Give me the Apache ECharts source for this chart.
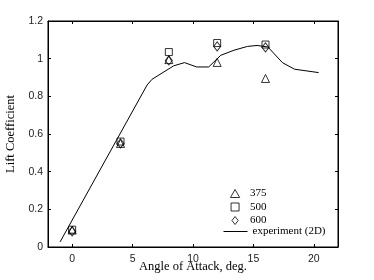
<!DOCTYPE html>
<html>
<head>
<meta charset="utf-8">
<script src="https://cdn.jsdelivr.net/npm/echarts@6/dist/echarts.min.js"></script>
<style>
html,body{margin:0;padding:0;background:#fff;}
#chart{width:374px;height:280px;}
</style>
</head>
<body>
<div id="chart"></div>
<script>
// Data
var angles = [0, 4, 8, 12, 16];
var cl375 = [0.09, 0.55, 0.995, 0.98, 0.895];
var cl500 = [0.092, 0.56, 1.035, 1.083, 1.075];
var cl600 = [0.083, 0.55, 0.99, 1.065, 1.06];
var expAngle = [-1, 6.2, 6.6, 7.1, 7.6, 8.4, 9.3, 10.3, 11.3, 12.3, 13.4, 14.5, 15.3, 16.2, 17.4, 18.4, 20.4];
var expCl = [0.027, 0.86, 0.89, 0.91, 0.93, 0.962, 0.979, 0.956, 0.956, 1.018, 1.045, 1.065, 1.07, 1.062, 0.979, 0.944, 0.926];
var xTicks = [0, 5, 10, 15, 20];
var yTicks = [0, 0.2, 0.4, 0.6, 0.8, 1, 1.2];
var seriesNames = ['375', '500', '600', 'experiment (2D)'];

function pairs(xs, ys) { return xs.map(function (x, i) { return [x, ys[i]]; }); }

var serif = 'Liberation Serif';
var sans = 'Liberation Sans';
var markerStyle = { color: 'transparent', borderColor: '#000', borderWidth: 1 };

var chart = echarts.init(document.getElementById('chart'));
var xBase = { min: -2, max: 22, type: 'value', splitLine: { show: false } };
var yBase = { min: 0, max: 1.2, interval: 0.2, type: 'value', splitLine: { show: false } };

chart.setOption({
  animation: false,
  backgroundColor: '#fff',
  grid: { left: 48, top: 21, width: 290, height: 226, containLabel: false, outerBoundsMode: 'none',
    show: true, borderColor: '#000', borderWidth: 1, backgroundColor: 'transparent' },
  xAxis: [
    Object.assign({}, xBase, {
      position: 'bottom',
      name: 'Angle of Attack, deg.', nameLocation: 'middle', nameGap: 13, nameMoveOverlap: false,
      nameTextStyle: { fontFamily: serif, fontSize: 12.5, color: '#000' },
      axisLine: { show: true, onZero: false, lineStyle: { color: '#000', width: 1 } },
      axisTick: { show: true, inside: true, length: 3, customValues: xTicks, lineStyle: { color: '#000' } },
      axisLabel: { customValues: xTicks, margin: 7, fontFamily: sans, fontSize: 10.5, color: '#222' }
    }),
    Object.assign({}, xBase, {
      position: 'top',
      axisLine: { show: true, onZero: false, lineStyle: { color: '#000', width: 1 } },
      axisTick: { show: true, inside: true, length: 3, customValues: xTicks, lineStyle: { color: '#000' } },
      axisLabel: { show: false }
    })
  ],
  yAxis: [
    Object.assign({}, yBase, {
      position: 'left',
      name: 'Lift Coefficient', nameLocation: 'middle', nameGap: 31, nameMoveOverlap: false,
      nameTextStyle: { fontFamily: serif, fontSize: 12.5, color: '#000' },
      axisLine: { show: true, onZero: false, lineStyle: { color: '#000', width: 1 } },
      axisTick: { show: true, inside: true, length: 3, lineStyle: { color: '#000' } },
      axisLabel: { margin: 5, fontFamily: sans, fontSize: 10.5, color: '#222',
        formatter: function (v) { var t = yTicks.filter(function (k) { return Math.abs(k - v) < 1e-9; }); return t.length ? String(t[0]) : ''; } }
    }),
    Object.assign({}, yBase, {
      position: 'right',
      axisLine: { show: true, onZero: false, lineStyle: { color: '#000', width: 1 } },
      axisTick: { show: true, inside: true, length: 3, lineStyle: { color: '#000' } },
      axisLabel: { show: false }
    })
  ],
  legend: [
    {
      data: [
        { name: seriesNames[0], icon: 'path://M4,0L8,7L0,7Z' },
        { name: seriesNames[1], icon: 'path://M0,0L7,0L7,7L0,7Z' },
        { name: seriesNames[2], icon: 'path://M3.5,0L7,4.5L3.5,9L0,4.5Z' }
      ],
      orient: 'vertical', left: 230, top: 188, padding: 0,
      itemWidth: 20, itemHeight: 8, itemGap: 2.5, symbolKeepAspect: true,
      itemStyle: { color: 'transparent', borderColor: '#000', borderWidth: 1 },
      textStyle: { fontFamily: serif, fontSize: 11, color: '#000' }
    },
    {
      data: [seriesNames[3]],
      orient: 'vertical', left: 223, top: 226, padding: 0,
      itemWidth: 24, itemHeight: 8,
      itemStyle: { color: 'transparent', borderWidth: 0, opacity: 0 },
      lineStyle: { color: '#000', width: 1 },
      textStyle: { fontFamily: serif, fontSize: 11, color: '#000' }
    }
  ],
  series: [
    { name: seriesNames[3], type: 'line', data: pairs(expAngle, expCl), showSymbol: false, symbol: 'none',
      lineStyle: { color: '#000', width: 1 }, itemStyle: { color: '#000' } },
    { name: seriesNames[0], type: 'scatter', data: pairs(angles, cl375), symbol: 'triangle', symbolSize: 8, itemStyle: markerStyle },
    { name: seriesNames[1], type: 'scatter', data: pairs(angles, cl500), symbol: 'rect', symbolSize: 7, itemStyle: markerStyle },
    { name: seriesNames[2], type: 'scatter', data: pairs(angles, cl600), symbol: 'diamond', symbolSize: [7, 9], itemStyle: markerStyle }
  ]
});
</script>
</body>
</html>
